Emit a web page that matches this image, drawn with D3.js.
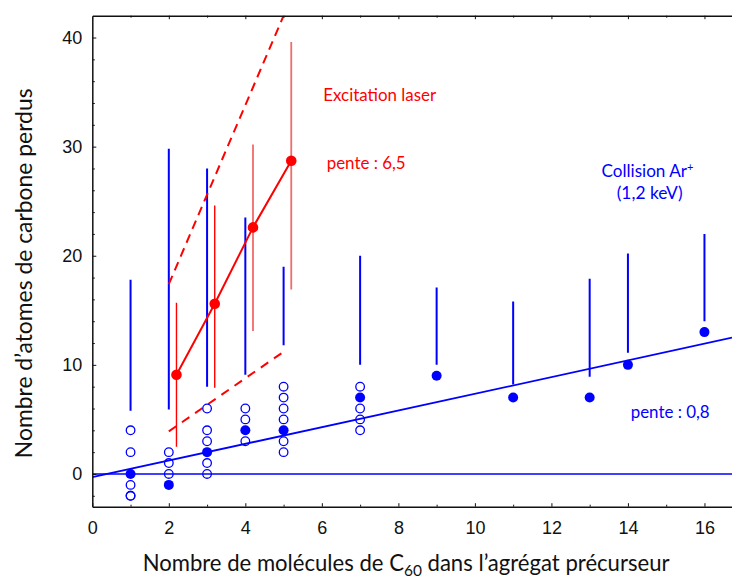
<!DOCTYPE html>
<html><head><meta charset="utf-8">
<script src="https://cdn.jsdelivr.net/npm/d3@7"></script>
<style>body{margin:0;background:#fff}svg{display:block}</style>
</head><body>
<svg id="c" width="732" height="578"></svg>
<script>
// ---- data ----
const blueX        = [1, 2, 3, 4, 5, 7, 9, 11, 13, 14, 16];
const blueMean     = [0, -1, 2, 4, 4, 7, 9, 7, 7, 10, 13];
const blueBarLow   = [5.8, 5.9, 8.0, 9.1, 11.8, 10.0, 10.0, 8.2, 8.9, 11.1, 14.0];
const blueBarHigh  = [17.8, 29.8, 28.0, 23.5, 19.0, 20.0, 17.1, 15.8, 17.9, 20.2, 22.0];
const openX = [1,1,1,1,1, 2,2,2, 3,3,3,3,3, 4,4,4, 5,5,5,5,5,5, 7,7,7,7];
const openY = [4,2,-1,-2,-2, 2,1,0, 6,4,3,1,0, 6,5,3, 8,7,6,5,3,2, 8,6,5,4];
const redX    = [2.2, 3.2, 4.2, 5.2];
const redMean = [9.1, 15.6, 22.6, 28.7];
const redLow  = [2.5, 7.9, 13.1, 16.9];
const redHigh = [15.7, 24.6, 30.2, 39.6];
const redBarLight = [false, false, true, true];
const upperEnvX = [2.0, 5.0], upperEnvY = [17.4, 42];
const lowerEnvX = [2.0, 5.0], lowerEnvY = [3.9, 11.2];
const fitX = [0, 16.72], fitY = [-0.3, 12.49];
const zeroX = [0, 16.72], zeroY = [0, 0];
const xTickLabels = [0, 2, 4, 6, 8, 10, 12, 14, 16];
const xMinorTicks = [1, 3, 5, 7, 9, 11, 13, 15];
const yTickLabels = [0, 10, 20, 30, 40];
const yMinorTicks = [-2, 2, 4, 6, 8, 12, 14, 16, 18, 22, 24, 26, 28, 32, 34, 36, 38];

const BLUE = "#0000ff", RED = "#ff0000", LIGHTRED = "#f26a6a";
const svg = d3.select("#c");
const x = d3.scaleLinear().domain([0, 16.72]).range([92.3, 732]);
const y = d3.scaleLinear().domain([-3, 42]).range([506.7, 15.7]);

svg.append("defs").append("clipPath").attr("id","clip")
  .append("rect").attr("x", x(0)).attr("y", y(42)).attr("width", x(16.72)-x(0)).attr("height", y(-3)-y(42));

const plot = svg.append("g").attr("clip-path","url(#clip)");
const line = d3.line().x(d=>x(d[0])).y(d=>y(d[1]));

// zero line and fit
plot.append("path").datum(d3.zip(zeroX, zeroY)).attr("d", line).attr("stroke", BLUE).attr("stroke-width",1.4).attr("fill","none");
plot.append("path").datum(d3.zip(fitX, fitY)).attr("d", line).attr("stroke", BLUE).attr("stroke-width",1.8).attr("fill","none");

// blue bars
plot.selectAll(".bbar").data(blueX).join("line")
  .attr("x1", d=>x(d)).attr("x2", d=>x(d))
  .attr("y1", (d,i)=>y(blueBarLow[i])).attr("y2", (d,i)=>y(blueBarHigh[i]))
  .attr("stroke", BLUE).attr("stroke-width", 2);

// red envelopes
plot.append("path").datum(d3.zip(upperEnvX, upperEnvY)).attr("d", line).attr("stroke", RED).attr("stroke-width",2).attr("stroke-dasharray","9,6").attr("fill","none");
plot.append("path").datum(d3.zip(lowerEnvX, lowerEnvY)).attr("d", line).attr("stroke", RED).attr("stroke-width",2).attr("stroke-dasharray","9,7").attr("fill","none");

// red bars
plot.selectAll(".rbar").data(redX).join("line")
  .attr("x1", d=>x(d)).attr("x2", d=>x(d))
  .attr("y1", (d,i)=>y(redLow[i])).attr("y2", (d,i)=>y(redHigh[i]))
  .attr("stroke", (d,i)=>redBarLight[i]?LIGHTRED:RED).attr("stroke-width", (d,i)=>redBarLight[i]?1.8:1.4);

// red line + points
plot.append("path").datum(d3.zip(redX, redMean)).attr("d", line).attr("stroke", RED).attr("stroke-width",2).attr("fill","none");
plot.selectAll(".rpt").data(redX).join("circle")
  .attr("cx", d=>x(d)).attr("cy", (d,i)=>y(redMean[i])).attr("r", 5.3).attr("fill", RED);

// open circles
plot.selectAll(".op").data(openX).join("circle")
  .attr("cx", d=>x(d)).attr("cy", (d,i)=>y(openY[i])).attr("r", 4.3)
  .attr("fill","none").attr("stroke", BLUE).attr("stroke-width",1.3);
// filled means
plot.selectAll(".bm").data(blueX).join("circle")
  .attr("cx", d=>x(d)).attr("cy", (d,i)=>y(blueMean[i])).attr("r", 5).attr("fill", BLUE);

// axes
function styleAxis(g){
  g.select(".domain").attr("stroke","#111").attr("stroke-width",1.5);
  g.selectAll(".tick line").attr("stroke","#111").attr("stroke-width",1);
  g.selectAll(".tick text").attr("font-family","'Liberation Sans', Arial, sans-serif").attr("font-size",18).attr("fill","#111");
}
svg.append("g").attr("transform",`translate(0,${y(-3)})`)
  .call(d3.axisBottom(x).tickValues(xTickLabels).tickSizeInner(-3.5).tickSizeOuter(0).tickPadding(15).tickFormat(d3.format("d"))).call(styleAxis);
svg.append("g").attr("transform",`translate(0,${y(-3)})`)
  .call(d3.axisBottom(x).tickValues(xMinorTicks).tickSizeInner(-2).tickSizeOuter(0).tickFormat("")).call(g=>{g.select(".domain").remove();styleAxis(g);});
svg.append("g").attr("transform",`translate(0,${y(42)})`)
  .call(d3.axisTop(x).tickValues(xTickLabels.filter(d=>d>0)).tickSizeInner(-3.5).tickSizeOuter(0).tickFormat("")).call(styleAxis);
svg.append("g").attr("transform",`translate(0,${y(42)})`)
  .call(d3.axisTop(x).tickValues(xMinorTicks).tickSizeInner(-2).tickSizeOuter(0).tickFormat("")).call(g=>{g.select(".domain").remove();styleAxis(g);});
svg.append("g").attr("transform",`translate(${x(0)},0)`)
  .call(d3.axisLeft(y).tickValues(yTickLabels).tickSizeInner(-4).tickSizeOuter(0).tickPadding(10).tickFormat(d3.format("d"))).call(styleAxis);
svg.append("g").attr("transform",`translate(${x(0)},0)`)
  .call(d3.axisLeft(y).tickValues(yMinorTicks).tickSizeInner(-2.5).tickSizeOuter(0).tickFormat("")).call(g=>{g.select(".domain").remove();styleAxis(g);});

// text helpers
const TF = "Lato, 'Open Sans', sans-serif";
function fit(t, w){
  const cur = t.node().getComputedTextLength();
  const fs = parseFloat(t.attr("font-size"));
  t.attr("font-size", fs * w / cur);
  return t;
}

// annotations
fit(svg.append("text").attr("x",323.3).attr("y",100.7).attr("font-family",TF).attr("font-size",17).attr("fill",RED).text("Excitation laser"),113);
fit(svg.append("text").attr("x",326.7).attr("y",169).attr("font-family",TF).attr("font-size",17).attr("fill",RED).text("pente : 6,5"),79);
const ca = svg.append("text").attr("x",647.5).attr("y",176.7).attr("text-anchor","middle").attr("font-family",TF).attr("font-size",17).attr("fill",BLUE);
ca.append("tspan").text("Collision Ar");
ca.append("tspan").attr("font-size","65%").attr("dy","-0.55em").text("+");
fit(ca, 92);
fit(svg.append("text").attr("x",649.7).attr("y",199).attr("text-anchor","middle").attr("font-family",TF).attr("font-size",17).attr("fill",BLUE).text("(1,2 keV)"),66);
fit(svg.append("text").attr("x",630.7).attr("y",418.3).attr("font-family",TF).attr("font-size",17).attr("fill",BLUE).text("pente : 0,8"),79);

// axis titles
const xt = svg.append("text").attr("x",142.7).attr("y",571).attr("font-family",TF).attr("font-size",22).attr("fill","#111");
xt.append("tspan").text("Nombre de molécules de C");
xt.append("tspan").attr("font-size","70%").attr("dy","0.3em").text("60");
xt.append("tspan").attr("dy","-0.21em").text(" dans l’agrégat précurseur");
fit(xt, 527);

const yt = svg.append("text").attr("transform","translate(31.5,273.3) rotate(-90)").attr("text-anchor","middle")
  .attr("font-family",TF).attr("font-size",22).attr("fill","#111").text("Nombre d’atomes de carbone perdus");
fit(yt, 370);
</script>
</body></html>
